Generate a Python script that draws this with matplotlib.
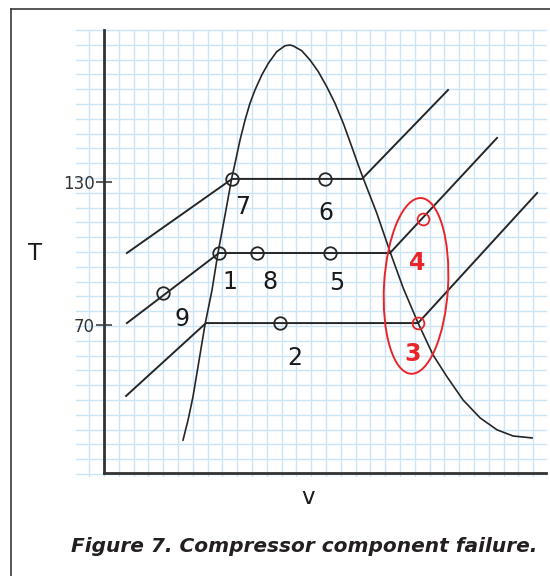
import matplotlib
matplotlib.use("Agg")
import matplotlib.pyplot as plt
import numpy as np
from matplotlib.lines import Line2D
from matplotlib.patches import Ellipse
from matplotlib.transforms import ScaledTranslation

# saturation dome (v in grid units, T)
dome_v = [5.34, 5.68, 6.01, 6.35, 6.82, 7.30, 7.70, 8.18, 8.63, 8.85, 9.19, 9.53,
          9.86, 10.20, 10.66, 11.10, 11.67, 12.23, 12.57, 12.79, 13.36, 13.92,
          14.48, 15.05, 15.61, 16.17, 16.74, 17.18, 17.43, 18.43, 19.32, 20.22,
          21.22, 22.23, 23.18, 24.26, 25.41, 26.55, 27.64, 28.92]
dome_T = [21.7, 30.1, 39.8, 52.4, 70.0, 84.7, 100.2, 116.2, 131.6, 137.8, 147.6, 156.0,
          163.0, 168.6, 174.9, 179.8, 184.7, 187.2, 187.5, 187.1, 185.1, 181.2,
          176.3, 170.0, 163.0, 154.6, 144.8, 137.1, 132.9, 116.9, 100.8, 85.4,
          70.8, 57.4, 48.2, 38.5, 31.0, 26.0, 23.4, 22.6]

# constant pressure lines
iso_hi_v = [1.55, 8.65, 17.43, 23.24]
iso_hi_T = [100.2, 131.3, 131.3, 168.6]
iso_mid_v = [1.55, 7.77, 19.32, 26.55]
iso_mid_T = [70.8, 100.2, 100.2, 148.5]
iso_lo_v = [1.49, 6.89, 21.22, 29.26]
iso_lo_T = [40.2, 70.8, 70.8, 125.4]

# state points
pt_names = ["7", "6", "1", "8", "5", "9", "2"]
pt_v = [8.65, 14.93, 7.77, 10.34, 15.27, 3.99, 11.89]
pt_T = [131.3, 131.3, 100.2, 100.2, 100.2, 83.4, 70.8]
lbl_v = [9.39, 15.0, 8.51, 11.22, 15.74, 5.27, 12.91]
lbl_T = [119.5, 117.0, 88.0, 88.0, 87.6, 72.5, 56.2]

red_names = ["4", "3"]
red_v = [21.55, 21.22]
red_T = [114.5, 70.8]
red_lbl_v = [21.15, 20.88]
red_lbl_T = [96.0, 57.8]

ytick_vals = [70, 130]

ink = "#262626"
red = "#e8262a"

fig = plt.figure(figsize=(5.5, 5.76), dpi=100)
ax = fig.add_axes([76/550, 1 - 477/576, 470/550, 447/576])
ax.set_xlim(-1.89, 29.86)
ax.set_ylim(6.2, 193.8)
ax.patch.set_alpha(0)

# graph paper
for gx in np.arange(-1, 30):
    ax.axvline(gx, color="#cbe5f7", lw=1.0, zorder=0)
for gy in 193.8 - 6.21 * np.arange(0, 31):
    ax.axhline(gy, color="#cbe5f7", lw=1.0, zorder=0, clip_on=False)

for s in ["top", "right"]:
    ax.spines[s].set_visible(False)
ax.spines["left"].set_position(("data", 0))
ax.spines["left"].set_bounds(7.9, 193.8)
ax.spines["bottom"].set_position(("data", 7.9))
ax.spines["bottom"].set_bounds(0, 29.86)
for s in ["left", "bottom"]:
    ax.spines[s].set_linewidth(2.0)
    ax.spines[s].set_color("#333333")

ax.set_xticks([])
ax.set_yticks(ytick_vals)
ax.set_yticklabels([str(t) for t in ytick_vals])
ax.tick_params(axis="y", direction="inout", length=11, width=1.1, color="#333333",
               labelsize=12, labelcolor="#333333", pad=1)

ax.plot(dome_v, dome_T, color=ink, lw=1.2, zorder=3, solid_joinstyle="round")
for vv, tt in [(iso_hi_v, iso_hi_T), (iso_mid_v, iso_mid_T), (iso_lo_v, iso_lo_T)]:
    ax.plot(vv, tt, color=ink, lw=1.4, zorder=3)

ax.plot(pt_v, pt_T, "o", ms=9, mfc="none", mec=ink, mew=1.3, zorder=4)
for n, x, y in zip(pt_names, lbl_v, lbl_T):
    ax.text(x, y, n, fontsize=17, color="#1a1a1a", ha="center", va="center")

ax.plot(red_v, red_T, "o", ms=8.5, mfc="none", mec=red, mew=1.3, zorder=4)
for n, x, y in zip(red_names, red_lbl_v, red_lbl_T):
    ax.text(x, y, n, fontsize=17, color=red, fontweight="bold", ha="center", va="center")

# highlight ellipse around points 3 and 4
tr = fig.dpi_scale_trans + ScaledTranslation(21.08, 86.4, ax.transData)
ax.add_patch(Ellipse((0, 0), 0.64, 1.76, angle=-3.3, transform=tr,
                     fill=False, edgecolor=red, lw=1.4, zorder=5))

fig.text(35/550, 1 - 253/576, "T", fontsize=16.5, color="#1a1a1a", ha="center", va="center")
fig.text(308/550, 1 - 497/576, "v", fontsize=16.5, color="#1a1a1a", ha="center", va="center")
fig.text(304/550, 1 - 546/576, "Figure 7. Compressor component failure.", fontsize=14.5,
         fontweight="bold", style="italic", color="#231f20", ha="center", va="center")

# frame
fig.add_artist(Line2D([11.3/550, 11.3/550], [0, 1 - 9/576], color="#3a3a3a", lw=1.2))
fig.add_artist(Line2D([11.3/550, 1], [1 - 9/576, 1 - 9/576], color="#3a3a3a", lw=1.2))

fig.savefig("out.png", dpi=100)
